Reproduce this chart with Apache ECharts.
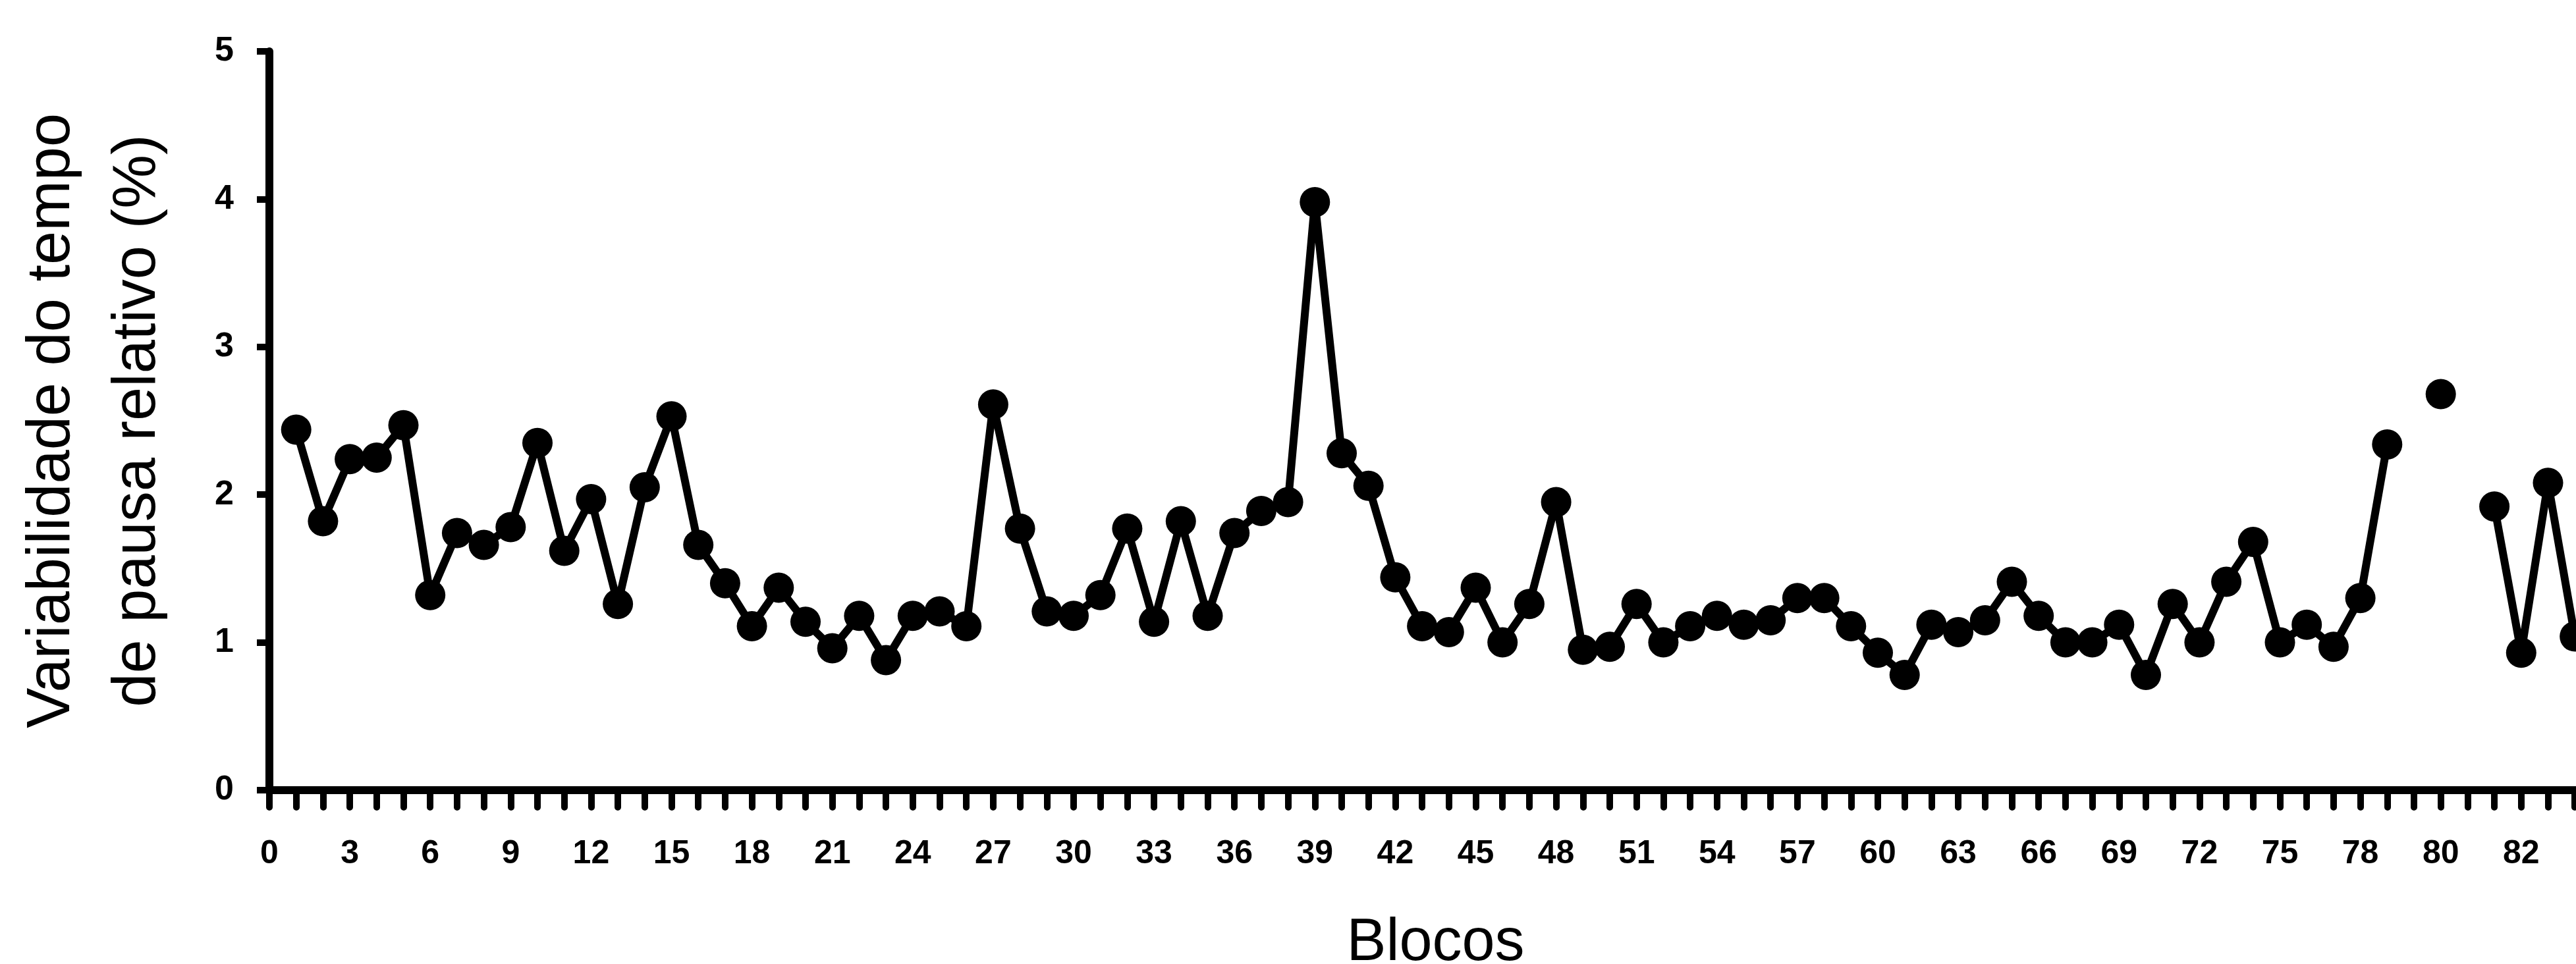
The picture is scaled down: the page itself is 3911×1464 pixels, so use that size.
<!DOCTYPE html>
<html>
<head>
<meta charset="utf-8">
<script src="https://cdn.jsdelivr.net/npm/echarts@6/dist/echarts.min.js"></script>
<style>
  html, body { margin: 0; padding: 0; background: #fff; }
  #chart { width: 3911px; height: 1464px; }
</style>
</head>
<body>
<div id="chart"></div>
<script>
// posições dos blocos no eixo (0..87), o 87 fica fora da imagem
const blocos = Array.from({ length: 88 }, (_, i) => String(i))

// rótulos mostrados a cada 3 posições
const tickLabels = ['0', '3', '6', '9', '12', '15', '18', '21', '24', '27', '30', '33', '36', '39',
  '42', '45', '48', '51', '54', '57', '60', '63', '66', '69', '72', '75', '78', '80', '82']

// variabilidade do tempo de pausa relativo (%)
const variabilidade = [
  null,
  2.44, 1.82, 2.24, 2.25, 2.47, 1.32, 1.74, 1.66, 1.78, 2.35,
  1.62, 1.97, 1.26, 2.05, 2.53, 1.66, 1.40, 1.11, 1.37, 1.14,
  0.96, 1.18, 0.88, 1.18, 1.21, 1.11, 2.61, 1.77, 1.21, 1.18,
  1.32, 1.77, 1.14, 1.82, 1.18, 1.74, 1.89, 1.95, 3.98, 2.28,
  2.06, 1.44, 1.11, 1.07, 1.37, 1.00, 1.26, 1.95, 0.95, 0.97,
  1.26, 1.00, 1.11, 1.18, 1.12, 1.15, 1.30, 1.30, 1.11, 0.93,
  0.78, 1.12, 1.07, 1.15, 1.41, 1.18, 1.00, 1.00, 1.12, 0.78,
  1.26, 1.00, 1.41, 1.68, 1.00, 1.12, 0.97, 1.30, 2.34, null,
  2.68, null, 1.92, 0.93, 2.08, 1.04, null
]

const chart = echarts.init(document.getElementById('chart'))

chart.setOption({
  animation: false,
  backgroundColor: '#fff',
  grid: {
    left: 409,
    top: 78,
    width: 87 * 40.7,
    height: 1122,
    outerBoundsMode: 'none'
  },
  xAxis: {
    type: 'category',
    data: blocos,
    boundaryGap: false,
    name: 'Blocos',
    nameLocation: 'middle',
    nameGap: 188,
    nameTextStyle: {
      fontFamily: 'Liberation Sans, Arial',
      fontSize: 90,
      color: '#000'
    },
    axisLine: { show: true, lineStyle: { color: '#000', width: 12 } },
    axisTick: {
      show: true,
      interval: 0,
      length: 26,
      lineStyle: { color: '#000', width: 10, cap: 'round' }
    },
    axisLabel: {
      interval: 2,
      margin: 72,
      fontFamily: 'Liberation Sans, Arial',
      fontWeight: 'bold',
      fontSize: 50,
      color: '#000',
      formatter: (val, idx) => tickLabels[idx / 3] || ''
    },
    splitLine: { show: false }
  },
  yAxis: {
    type: 'value',
    min: 0,
    max: 5,
    interval: 1,
    name: 'Variabilidade do tempo\nde pausa relativo (%)',
    nameLocation: 'middle',
    nameGap: 134,
    nameTextStyle: {
      fontFamily: 'Liberation Sans, Arial',
      fontSize: 92,
      lineHeight: 130,
      color: '#000'
    },
    axisLine: { show: true, lineStyle: { color: '#000', width: 12 } },
    axisTick: {
      show: true,
      length: 19,
      lineStyle: { color: '#000', width: 10 }
    },
    axisLabel: {
      margin: 54,
      fontFamily: 'Liberation Sans, Arial',
      fontWeight: 'bold',
      fontSize: 52,
      color: '#000'
    },
    splitLine: { show: false }
  },
  series: [{
    type: 'line',
    data: variabilidade,
    connectNulls: false,
    showAllSymbol: true,
    symbol: 'circle',
    symbolSize: 46,
    lineStyle: { color: '#000', width: 12 },
    itemStyle: { color: '#000' }
  }]
})
</script>
</body>
</html>
